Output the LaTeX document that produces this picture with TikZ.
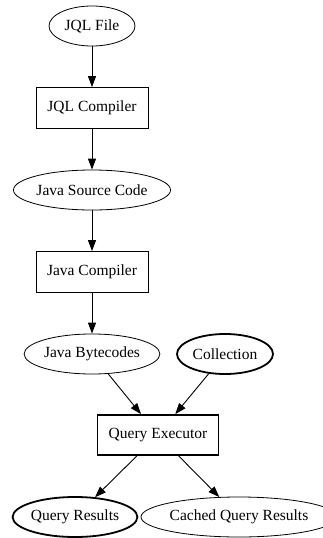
\documentclass[tikz,border=0pt]{standalone}
\usepackage{fontspec}
\setmainfont{Liberation Serif}
\usetikzlibrary{shapes.geometric,arrows.meta}
\tikzset{
  datanode/.style={draw,ellipse,inner sep=0pt,minimum height=40pt,line width=0.8pt,font=\fontsize{15.5}{18}\selectfont},
  toolnode/.style={draw,rectangle,inner sep=0pt,minimum height=41pt,line width=0.8pt,font=\fontsize{15.5}{18}\selectfont},
  boldnode/.style={line width=1.8pt},
  flow/.style={-{Triangle[length=11pt,width=8pt]},line width=0.9pt},
}
\begin{document}
\begin{tikzpicture}[x=1pt,y=-1pt]
    \useasboundingbox (0,0) rectangle (323,538);
    \node[datanode,minimum width=86pt] (jqlfile) at (92,26) {JQL File};
    \node[toolnode,minimum width=112pt] (jqlcompiler) at (92,108) {JQL Compiler};
    \node[datanode,minimum width=145pt] (javasource) at (92,190) {Java Source Code};
    \node[toolnode,minimum width=112pt] (javacompiler) at (92,272) {Java Compiler};
    \node[datanode,minimum width=131pt] (bytecodes) at (92,354) {Java Bytecodes};
    \node[datanode,boldnode,minimum width=96pt] (collection) at (225,354) {Collection};
    \node[toolnode,boldnode,minimum width=121pt,minimum height=40pt] (executor) at (158,435) {Query Executor};
    \node[datanode,boldnode,minimum width=121pt] (results) at (75,517) {Query Results};
    \node[datanode,minimum width=166pt] (cached) at (239,517) {Cached Query Results};
    \draw[flow] (jqlfile) -- (jqlcompiler);
    \draw[flow] (jqlcompiler) -- (javasource);
    \draw[flow] (javasource) -- (javacompiler);
    \draw[flow] (javacompiler) -- (bytecodes);
    \draw[flow] (bytecodes) -- (executor);
    \draw[flow] (collection) -- (executor);
    \draw[flow] (executor) -- (results);
    \draw[flow] (executor) -- (cached);
\end{tikzpicture}
\end{document}
